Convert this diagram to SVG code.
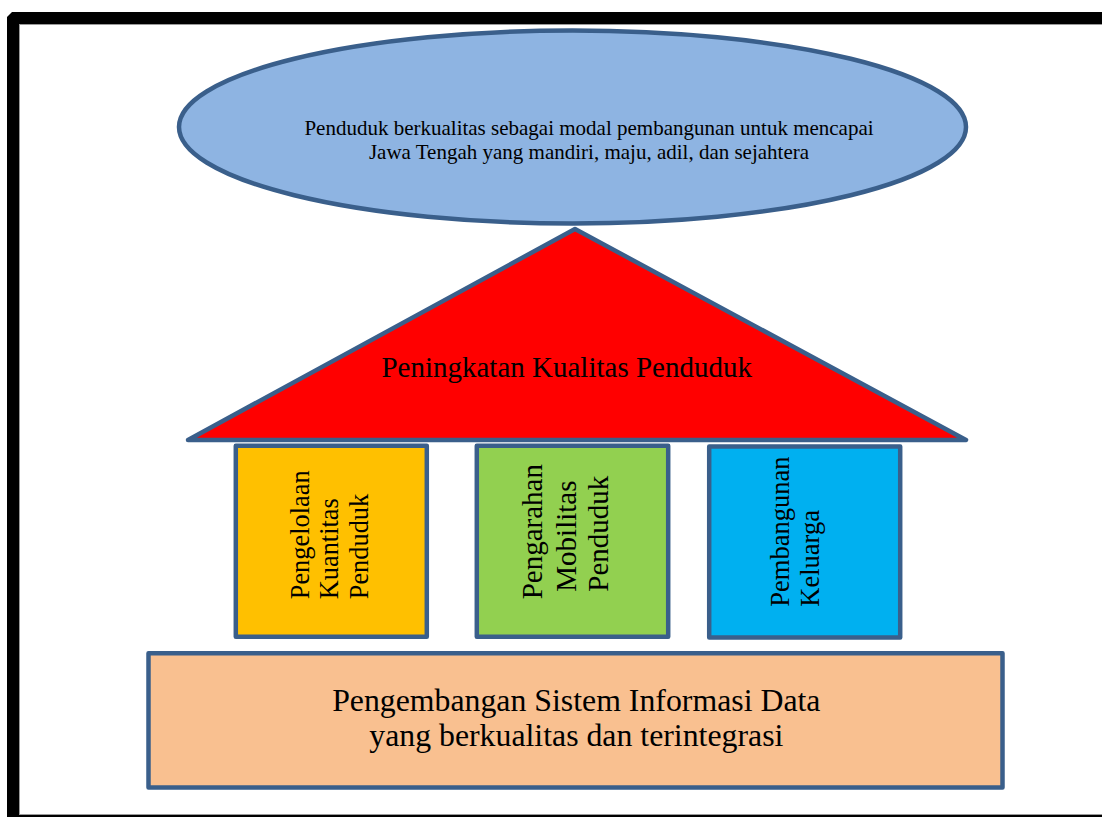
<svg xmlns="http://www.w3.org/2000/svg" width="1102" height="817" viewBox="0 0 1102 817">
  <style>
    .shape { stroke: #3A5F8B; stroke-width: 4.5; stroke-linejoin: round; }
    .t { font-family: "Liberation Serif", "Times New Roman", serif; fill: #000; }
    .c { text-anchor: middle; }
  </style>
  <rect x="0" y="0" width="1102" height="817" fill="#FFFFFF"/>
  <g id="frame">
    <path d="M7,17 L12,12 L1110,12 L1110,830 L7,830 Z" fill="#000000"/>
    <rect x="19.5" y="24.5" width="1095" height="790" fill="#FFFFFF" stroke="#9A9A9A" stroke-width="1"/>
  </g>
  <g id="connectors"/>
  <g id="goal">
    <ellipse class="shape" cx="572.5" cy="127" rx="393.5" ry="96.5" fill="#8EB4E2"/>
    <text class="t c" font-size="21" x="589" y="135">Penduduk berkualitas sebagai modal pembangunan untuk mencapai</text>
    <text class="t c" font-size="21" x="589" y="158.6">Jawa Tengah yang mandiri, maju, adil, dan sejahtera</text>
  </g>
  <g id="roof">
    <polygon class="shape" points="575,229 966,440 188,440" fill="#FF0000"/>
    <text class="t c" font-size="29" x="566.7" y="377.3">Peningkatan Kualitas Penduduk</text>
  </g>
  <g id="pillar-kuantitas">
    <rect class="shape" x="235.8" y="445.8" width="191" height="191" fill="#FFC000"/>
    <text class="t" font-size="26.4" transform="translate(309,599.3) rotate(-90)">Pengelolaan</text>
    <text class="t" font-size="26.4" transform="translate(338.3,599.3) rotate(-90)">Kuantitas</text>
    <text class="t" font-size="26.4" transform="translate(368.3,599.3) rotate(-90)">Penduduk</text>
  </g>
  <g id="pillar-mobilitas">
    <rect class="shape" x="476.8" y="445.8" width="191.4" height="191" fill="#92D050"/>
    <text class="t" font-size="29" transform="translate(541.7,599.3) rotate(-90)">Pengarahan</text>
    <text class="t" font-size="29" transform="translate(576,591.7) rotate(-90)">Mobilitas</text>
    <text class="t" font-size="29" transform="translate(607.7,591.7) rotate(-90)">Penduduk</text>
  </g>
  <g id="pillar-keluarga">
    <rect class="shape" x="709.2" y="446.5" width="191" height="191" fill="#00B0F0"/>
    <text class="t" font-size="26.5" transform="translate(789.3,606.7) rotate(-90)">Pembangunan</text>
    <text class="t" font-size="26.5" transform="translate(819,606.7) rotate(-90)">Keluarga</text>
  </g>
  <g id="foundation">
    <rect class="shape" x="148.5" y="653.2" width="854" height="134.3" fill="#F9C090"/>
    <text class="t c" font-size="31.8" x="576.3" y="710.7">Pengembangan Sistem Informasi Data</text>
    <text class="t c" font-size="31.8" x="576.3" y="746">yang berkualitas dan terintegrasi</text>
  </g>
</svg>
